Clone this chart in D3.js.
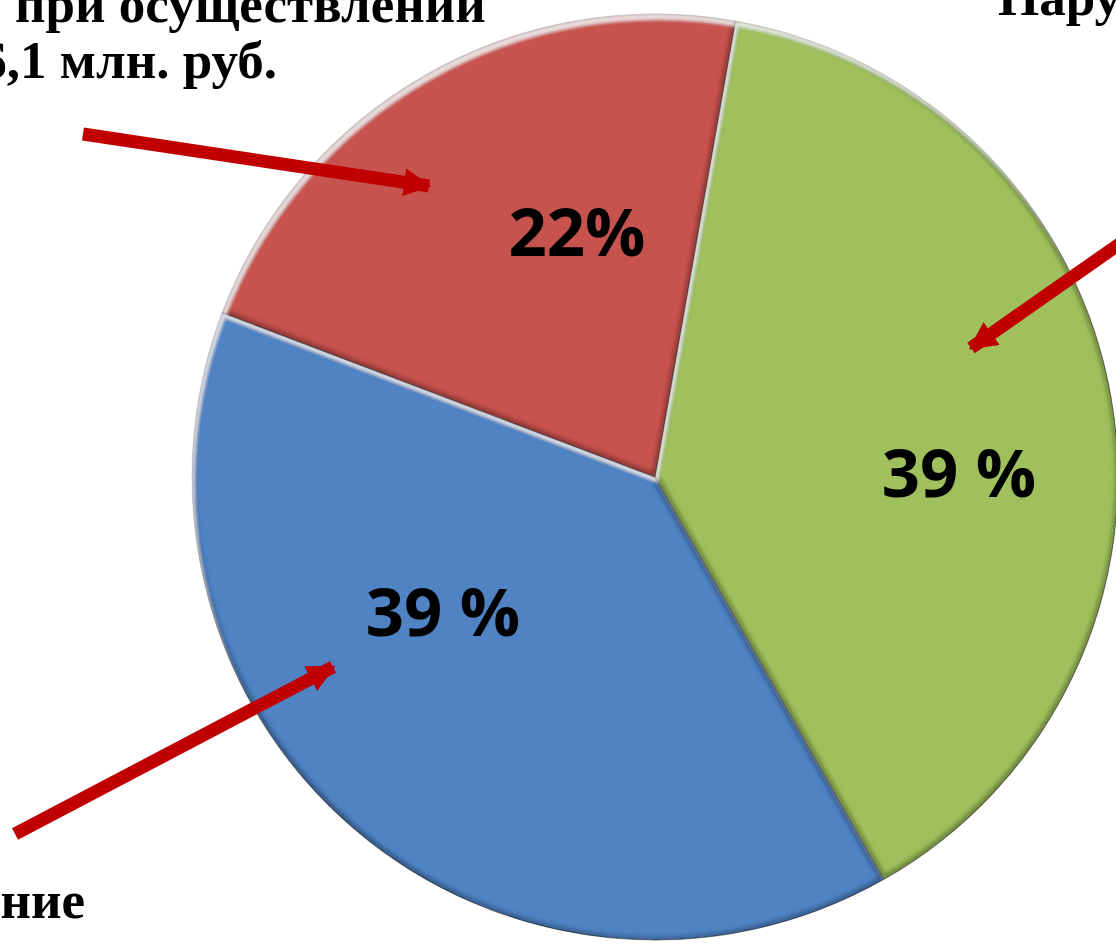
<!DOCTYPE html>
<html lang="ru">

<head>
    <title>Нарушения</title>
    <meta charset="utf-8">
    <script src="https://d3js.org/d3.v7.min.js"></script>
    <style>
        body { margin: 0; background: #fff; overflow: hidden; }
        .pct { font-family: "Open Sans", "Noto Sans", sans-serif; font-weight: 700; font-size: 67px; fill: #000; }
        .note { font-family: "Liberation Serif", "Times New Roman", serif; font-weight: 700; font-size: 53px; fill: #000; }
    </style>
</head>

<body>
    <div id="container"></div>
    <script>
        // Data
        const categories = ["Нарушения", "Нецелевое использование", "При осуществлении"];
        const values = [39, 39, 22];
        const labels = ["39 %", "39 %", "22%"];
        const colors = ["#9FC05B", "#5083C4", "#C75250"];

        // Layout
        const W = 1116, H = 946;
        const cx = 655, cy = 477, radius = 463;
        const startDeg = 10;
        // label anchor (angle in degrees clockwise from top, distance from center)
        const labelPos = [[89, 304], [237.7, 251], [342.4, 258]];

        const svg = d3.select("#container")
            .append("svg")
            .attr("width", W)
            .attr("height", H);

        // Bevel filter: dark inner rim all round, light rim on edges facing top-left
        const defs = svg.append("defs");
        const bevel = defs.append("filter")
            .attr("id", "bevel")
            .attr("x", "-5%").attr("y", "-5%")
            .attr("width", "110%").attr("height", "110%");

        bevel.append("feMorphology").attr("in", "SourceAlpha").attr("operator", "erode").attr("radius", 3).attr("result", "eroded");
        bevel.append("feComposite").attr("in", "SourceAlpha").attr("in2", "eroded").attr("operator", "out").attr("result", "rimD");
        bevel.append("feGaussianBlur").attr("in", "rimD").attr("stdDeviation", 2).attr("result", "rimDB");
        bevel.append("feFlood").attr("flood-color", "#000").attr("flood-opacity", 0.7).attr("result", "black");
        bevel.append("feComposite").attr("in", "black").attr("in2", "rimDB").attr("operator", "in").attr("result", "dark");

        bevel.append("feOffset").attr("in", "SourceAlpha").attr("dx", 3).attr("dy", 6).attr("result", "offL");
        bevel.append("feComposite").attr("in", "SourceAlpha").attr("in2", "offL").attr("operator", "out").attr("result", "rimL");
        bevel.append("feGaussianBlur").attr("in", "rimL").attr("stdDeviation", 1.5).attr("result", "rimLB");
        bevel.append("feFlood").attr("flood-color", "#fff").attr("flood-opacity", 0.7).attr("result", "white");
        bevel.append("feComposite").attr("in", "white").attr("in2", "rimLB").attr("operator", "in").attr("result", "light");

        const merge = bevel.append("feMerge").attr("result", "merged");
        ["SourceGraphic", "dark", "light"].forEach(n => merge.append("feMergeNode").attr("in", n));
        bevel.append("feComposite").attr("in", "merged").attr("in2", "SourceAlpha").attr("operator", "in");

        // Arrow head
        defs.append("marker")
            .attr("id", "head")
            .attr("viewBox", "0 0 10 10")
            .attr("refX", 9).attr("refY", 5)
            .attr("markerUnits", "userSpaceOnUse")
            .attr("markerWidth", 28).attr("markerHeight", 32)
            .attr("orient", "auto")
            .append("path")
            .attr("d", "M0,0 L10,5 L0,10 Z")
            .attr("fill", "#C00000");

        // Pie
        const pie = d3.pie()
            .sort(null)
            .startAngle(startDeg * Math.PI / 180)
            .endAngle((startDeg + 360) * Math.PI / 180);

        const arc = d3.arc().innerRadius(0).outerRadius(radius);

        const g = svg.append("g").attr("transform", `translate(${cx},${cy})`);

        g.selectAll("path.slice")
            .data(pie(values))
            .join("path")
            .attr("class", "slice")
            .attr("d", arc)
            .attr("fill", (d, i) => colors[i])
            .attr("stroke", "rgba(20,20,20,0.6)")
            .attr("stroke-width", 1.2)
            .style("filter", "url(#bevel)");

        // Percent labels
        g.selectAll("text.pct")
            .data(labels)
            .join("text")
            .attr("class", "pct")
            .attr("text-anchor", "middle")
            .attr("x", (d, i) => labelPos[i][1] * Math.sin(labelPos[i][0] * Math.PI / 180))
            .attr("y", (d, i) => -labelPos[i][1] * Math.cos(labelPos[i][0] * Math.PI / 180) + 25)
            .text(d => d);

        // Arrows
        const arrows = [
            [[83, 134], [429, 186]],
            [[1135, 233], [971, 348]],
            [[15, 834], [333, 667]]
        ];
        svg.selectAll("line.arrow")
            .data(arrows)
            .join("line")
            .attr("class", "arrow")
            .attr("x1", d => d[0][0]).attr("y1", d => d[0][1])
            .attr("x2", d => d[1][0]).attr("y2", d => d[1][1])
            .attr("stroke", "#C00000")
            .attr("stroke-width", 13)
            .attr("marker-end", "url(#head)");

        // Captions, cropped at the picture edges as in the source slide
        svg.append("text").attr("class", "note").attr("x", 15).attr("y", 22).text("при осуществлении");
        svg.append("text").attr("class", "note").attr("x", 277).attr("y", 78).attr("text-anchor", "end").text("6,1 млн. руб.");
        svg.append("text").attr("class", "note").attr("x", 998).attr("y", 15).text("Нарушения");
        svg.append("text").attr("class", "note").attr("x", 85).attr("y", 918).attr("text-anchor", "end").text("ние");
    </script>
</body>

</html>
